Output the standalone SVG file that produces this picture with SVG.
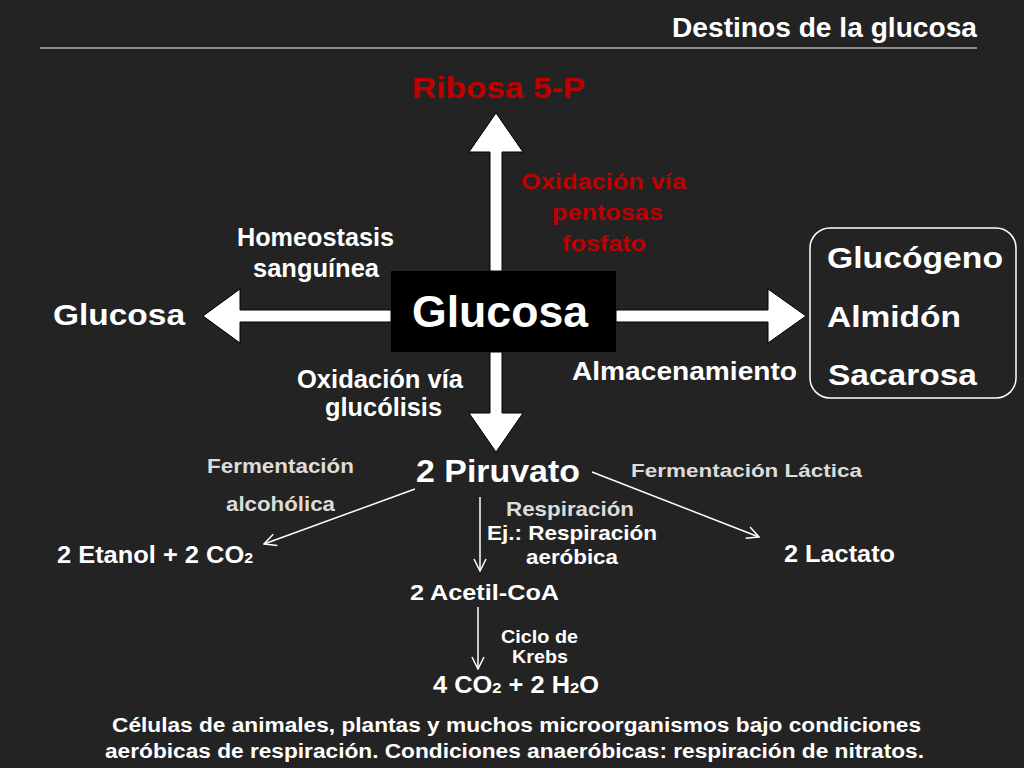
<svg xmlns="http://www.w3.org/2000/svg" width="1024" height="768" viewBox="0 0 1024 768">
<style>
text{font-family:"Liberation Sans",Arial,sans-serif;font-weight:bold;fill:#fff}
.red{fill:#c00000}
.gray{fill:#dcdcdc}
.big{fill:#fff;stroke:#000;stroke-width:1}
.thin{stroke:#fff;stroke-width:1.5;fill:none;marker-end:url(#ah)}
</style>
<defs>
<marker id="ah" markerUnits="userSpaceOnUse" markerWidth="14" markerHeight="14" viewBox="0 0 14 14" refX="13" refY="7" orient="auto">
<path d="M1,1 L13,7 L1,13" fill="none" stroke="#fff" stroke-width="1.5"/>
</marker>
</defs>
<rect width="1024" height="768" fill="#232323"/>
<g id="title">
<text x="672" y="37" font-size="27" textLength="305" lengthAdjust="spacingAndGlyphs">Destinos de la glucosa</text>
<line x1="40" y1="48" x2="977" y2="48" stroke="#b0b0b0" stroke-width="1.5"/>
</g>
<g id="connectors">
<polygon class="big" points="490,271 490,152 469,152 496,113 523,152 502,152 502,271"/>
<polygon class="big" points="490,352 490,413 469,413 496,452 523,413 502,413 502,352"/>
<polygon class="big" points="391,310 240,310 240,289 203,316 240,343 240,322 391,322"/>
<polygon class="big" points="616,310 768,310 768,289 806,316 768,343 768,322 616,322"/>
<line class="thin" x1="415" y1="489" x2="264" y2="544"/>
<line class="thin" x1="480" y1="497" x2="480" y2="571"/>
<line class="thin" x1="478" y1="607" x2="478" y2="669"/>
<line class="thin" x1="592" y1="472" x2="759" y2="537"/>
</g>
<g id="edge-labels">
<text class="red" x="521" y="189" font-size="22" textLength="165" lengthAdjust="spacingAndGlyphs">Oxidación vía</text>
<text class="red" x="552" y="220" font-size="22" textLength="111" lengthAdjust="spacingAndGlyphs">pentosas</text>
<text class="red" x="562" y="251" font-size="22" textLength="84" lengthAdjust="spacingAndGlyphs">fosfato</text>
<text x="237" y="246" font-size="25" textLength="157" lengthAdjust="spacingAndGlyphs">Homeostasis</text>
<text x="253" y="277" font-size="25" textLength="126" lengthAdjust="spacingAndGlyphs">sanguínea</text>
<text x="297" y="388" font-size="25" textLength="166" lengthAdjust="spacingAndGlyphs">Oxidación vía</text>
<text x="325" y="416" font-size="25" textLength="117" lengthAdjust="spacingAndGlyphs">glucólisis</text>
<text x="572" y="380" font-size="25" textLength="225" lengthAdjust="spacingAndGlyphs">Almacenamiento</text>
<text class="gray" x="207" y="473" font-size="19.5" textLength="147" lengthAdjust="spacingAndGlyphs">Fermentación</text>
<text class="gray" x="226" y="511" font-size="19.5" textLength="109" lengthAdjust="spacingAndGlyphs">alcohólica</text>
<text class="gray" x="631" y="477" font-size="19" textLength="231" lengthAdjust="spacingAndGlyphs">Fermentación Láctica</text>
<text class="gray" x="506" y="516" font-size="20.5" textLength="128" lengthAdjust="spacingAndGlyphs">Respiración</text>
<text x="487" y="540" font-size="20.5" textLength="170" lengthAdjust="spacingAndGlyphs">Ej.: Respiración</text>
<text x="526" y="564" font-size="20.5" textLength="92" lengthAdjust="spacingAndGlyphs">aeróbica</text>
<text x="501" y="643" font-size="18" textLength="77" lengthAdjust="spacingAndGlyphs">Ciclo de</text>
<text x="512" y="663" font-size="18" textLength="56" lengthAdjust="spacingAndGlyphs">Krebs</text>
</g>
<g id="node-ribosa">
<text class="red" x="412" y="98" font-size="30" textLength="173" lengthAdjust="spacingAndGlyphs">Ribosa 5-P</text>
</g>
<g id="node-glucosa-center">
<rect x="391" y="271" width="225" height="81" fill="#000"/>
<text x="412" y="327" font-size="45" textLength="176" lengthAdjust="spacingAndGlyphs">Glucosa</text>
</g>
<g id="node-glucosa-left">
<text x="53" y="325" font-size="30" textLength="132" lengthAdjust="spacingAndGlyphs">Glucosa</text>
</g>
<g id="node-storage">
<rect x="810" y="228" width="206" height="170" rx="20" ry="20" fill="none" stroke="#fff" stroke-width="1.5"/>
<text x="827" y="268" font-size="30" textLength="176" lengthAdjust="spacingAndGlyphs">Glucógeno</text>
<text x="827" y="327" font-size="30" textLength="134" lengthAdjust="spacingAndGlyphs">Almidón</text>
<text x="828" y="385" font-size="30" textLength="149" lengthAdjust="spacingAndGlyphs">Sacarosa</text>
</g>
<g id="node-piruvato">
<text x="416" y="482" font-size="32" textLength="164" lengthAdjust="spacingAndGlyphs">2 Piruvato</text>
</g>
<g id="node-etanol">
<text x="57" y="563" font-size="24" textLength="196" lengthAdjust="spacingAndGlyphs">2 Etanol + 2 CO<tspan font-size="15">2</tspan></text>
</g>
<g id="node-lactato">
<text x="784" y="562" font-size="23" textLength="111" lengthAdjust="spacingAndGlyphs">2 Lactato</text>
</g>
<g id="node-acetil">
<text x="410" y="600" font-size="22" textLength="149" lengthAdjust="spacingAndGlyphs">2 Acetil-CoA</text>
</g>
<g id="node-co2">
<text x="433" y="693" font-size="23" textLength="166" lengthAdjust="spacingAndGlyphs">4 CO<tspan font-size="15">2</tspan> + 2 H<tspan font-size="15">2</tspan>O</text>
</g>
<g id="footer">
<text x="112" y="732" font-size="20" textLength="809" lengthAdjust="spacingAndGlyphs">Células de animales, plantas y muchos microorganismos bajo condiciones</text>
<text x="105" y="758" font-size="20" textLength="819" lengthAdjust="spacingAndGlyphs">aeróbicas de respiración. Condiciones anaeróbicas: respiración de nitratos.</text>
</g>
</svg>
